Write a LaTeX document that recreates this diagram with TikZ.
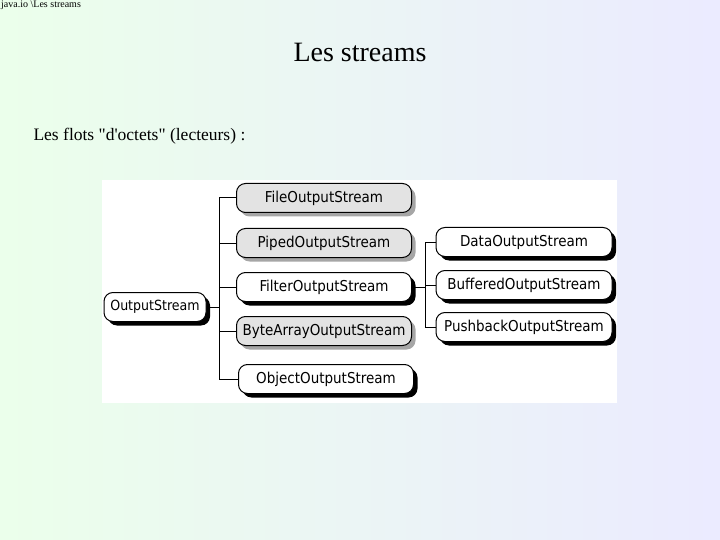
\documentclass[tikz,border=0pt]{standalone}
\usepackage{fontspec}
\setmainfont{Liberation Serif}
\newfontfamily\rawserif{Liberation Serif}[Ligatures=ResetAll]
\newfontfamily\boxfont{DejaVu Sans Condensed}
\usetikzlibrary{shadows}
\begin{document}
\begin{tikzpicture}[x=1pt,y=-1pt,
  cls/.style={draw=black,line width=1pt,rounded corners=9pt,minimum height=29pt,inner xsep=2pt,font=\boxfont\fontsize{15}{17}\selectfont},
  gcls/.style={cls,fill=gray!22,drop shadow={shadow xshift=4pt,shadow yshift=-4pt,fill=gray!70,opacity=1}},
  wcls/.style={cls,fill=white,drop shadow={shadow xshift=4pt,shadow yshift=-4pt,fill=black,opacity=1}},
  link/.style={line width=1pt}]
\useasboundingbox (0,0) rectangle (720,540);
\shade[left color=green!8,right color=blue!8] (0,0) rectangle (720,540);
\fill[white] (102,180) rectangle (617,403);
\node[anchor=north west,font=\fontsize{10}{11}\selectfont,inner sep=1pt] (hdr) at (0,0) {java.io \textbackslash Les streams};
\node[font=\fontsize{28}{32}\selectfont] (title) at (360,52) {Les streams};
\node[anchor=west,font=\rawserif\fontsize{17.5}{20}\selectfont] (sub) at (30,136) {Les flots "d'octets" (lecteurs) :};
\node[wcls,minimum width=102pt,font=\boxfont\fontsize{14}{16}\selectfont] (os) at (155,307) {OutputStream};
\node[gcls,minimum width=175pt] (file) at (324,198) {FileOutputStream};
\node[gcls,minimum width=175pt] (piped) at (324,243) {PipedOutputStream};
\node[wcls,minimum width=175pt] (filter) at (324,287) {FilterOutputStream};
\node[gcls,minimum width=175pt] (byte) at (324,331) {ByteArrayOutputStream};
\node[wcls,minimum width=175pt] (obj) at (326,379) {ObjectOutputStream};
\node[wcls,minimum width=176pt] (data) at (524,242) {DataOutputStream};
\node[wcls,minimum width=176pt] (buf) at (524,285) {BufferedOutputStream};
\node[wcls,minimum width=176pt] (push) at (524,327) {PushbackOutputStream};
\coordinate (t1) at (219,307);
\coordinate (t2) at (425,287);
\draw[link] (os.east) -- (t1);
\draw[link] (file.west) -| (219,379) -- (obj.west);
\draw[link] (piped.west) -- (219,243);
\draw[link] (filter.west) -- (219,287);
\draw[link] (byte.west) -- (219,331);
\draw[link] (filter.east) -- (t2);
\draw[link] (data.west) -| (425,327) -- (push.west);
\draw[link] (buf.west) -- (425,285);
\end{tikzpicture}
\end{document}
